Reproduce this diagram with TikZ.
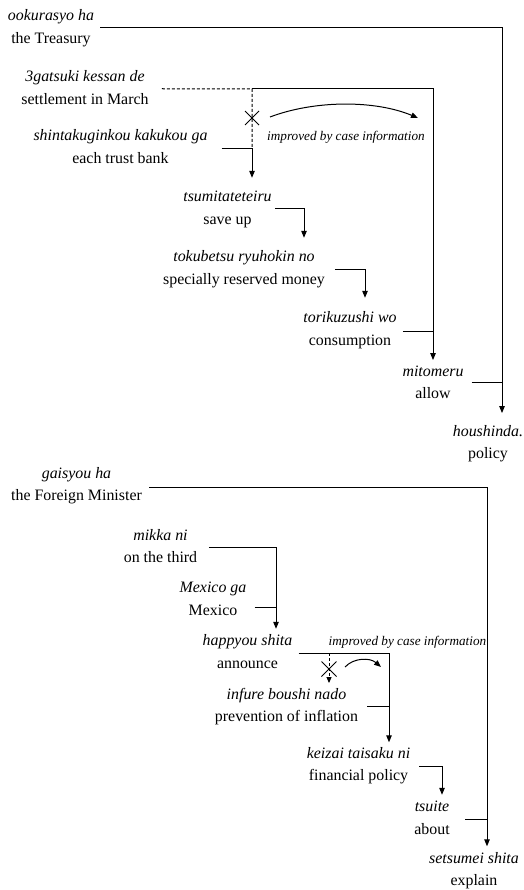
\documentclass[tikz,border=0pt]{standalone}
\usepackage{fontspec}
\setmainfont{Liberation Serif}
\usetikzlibrary{arrows.meta,calc}
\tikzset{
  word/.style={align=center, inner sep=0pt, font=\fontsize{15.9}{22.5}\selectfont},
  link/.style={line width=1pt},
  arr/.style={link, -{Triangle[length=7pt,width=5.5pt]}},
  wrong/.style={line width=1pt, dash pattern=on 3pt off 2pt},
  note/.style={inner sep=0pt, font=\fontsize{13.2}{15}\selectfont\itshape},
  xmark/.style={line width=0.8pt},
}
\newcommand{\glossword}[2]{\textit{#1}\strut\\#2\strut}
\begin{document}
\begin{tikzpicture}[x=1pt,y=-1pt]
\useasboundingbox (0,0) rectangle (523,890);
% ---------- upper sentence ----------
\node[word] (n1) at (51,27.75)   {\glossword{ookurasyo ha}{the Treasury}};
\node[word] (n2) at (85,88.75)   {\glossword{3gatsuki kessan de}{settlement in March}};
\node[word] (n3) at (120.5,147.5){\glossword{shintakuginkou kakukou ga}{each trust bank}};
\node[word] (n4) at (227.5,208.5){\glossword{tsumitateteiru}{save up}};
\node[word] (n5) at (244,268.5)  {\glossword{tokubetsu ryuhokin no}{specially reserved money}};
\node[word] (n6) at (350,329.5)  {\glossword{torikuzushi wo}{consumption}};
\node[word] (n7) at (433,382.75) {\glossword{mitomeru}{allow}};
\node[word] (n8) at (488,442.75) {\glossword{houshinda.}{policy}};

\coordinate (t1) at ($(n8.north)+(14,-7)$);
\draw[arr] ($(n1.east)+(6,0)$) -| (t1);

\coordinate (b1) at (252,89);
\coordinate (s3) at ($(n3.east)+(14,1.5)$);
\draw[wrong] ($(n2.east)+(13,0)$) -- (b1) -- (b1 |- s3);
\draw[arr] (b1) -| (n7.north);
\draw[arr] (s3) -| ($(b1 |- n4.north)+(0,-8)$);
\draw[arr] ($(n4.east)+(3,0)$) -| ($(n5.north)+(60,-8)$);
\draw[arr] ($(n5.east)+(10,1.5)$) -| ($(n6.north)+(15,-9)$);
\coordinate (s6) at ($(n6.east)+(6,1.5)$);
\draw[link] (s6) -- (s6 -| n7.north);
\coordinate (s7) at ($(n7.east)+(8,0)$);
\draw[link] (s7) -- (s7 -| t1);

\coordinate (x1) at (252,118);
\draw[xmark] ($(x1)+(-7,-7)$) -- ($(x1)+(7,7)$) ($(x1)+(-7,7)$) -- ($(x1)+(7,-7)$);
\coordinate (c1a) at (270,117);
\coordinate (c1b) at (418,118);
\draw[arr] (c1a) .. controls (315,100) and (375,100) .. (c1b);
\node[note] (l1) at (346,137) {improved by case information};

% ---------- lower sentence ----------
\node[word] (n9)  at (76.5,485)   {\glossword{gaisyou ha}{the Foreign Minister}};
\node[word] (n10) at (160.5,546.75){\glossword{mikka ni}{on the third}};
\node[word] (n11) at (213,599.5)  {\glossword{Mexico ga}{Mexico}};
\node[word] (n12) at (247.5,652.5){\glossword{happyou shita}{announce}};
\node[word] (n13) at (286.5,705.75){\glossword{infure boushi nado}{prevention of inflation}};
\node[word] (n14) at (358.5,765)  {\glossword{keizai taisaku ni}{financial policy}};
\node[word] (n15) at (432,818.5)  {\glossword{tsuite}{about}};
\node[word] (n16) at (474,870)    {\glossword{setsumei shita}{explain}};

\coordinate (t9) at ($(n16.north)+(13,-1)$);
\draw[arr] ($(n9.east)+(7,2)$) -| (t9);
\coordinate (t12) at ($(n12.north)+(28.5,-1)$);
\draw[arr] ($(n10.east)+(11.5,1)$) -| (t12);
\coordinate (s11) at ($(n11.east)+(8,7.5)$);
\draw[link] (s11) -- (s11 -| t12);
\coordinate (t14) at ($(n14.north)+(30.5,0)$);
\coordinate (s12) at ($(n12.east)+(6,0.5)$);
\draw[arr] (s12) -| (t14);
\coordinate (b2) at (329,653);
\draw[wrong,-{Triangle[length=6pt,width=5pt]}] (b2) -- (b2 |- n13.north);
\coordinate (s13) at ($(n13.east)+(9,0.25)$);
\draw[link] (s13) -- (s13 -| t14);
\coordinate (t15) at ($(n15.north)+(10,-1)$);
\draw[arr] ($(n14.east)+(9,1)$) -| (t15);
\coordinate (s15) at ($(n15.east)+(15.5,0.5)$);
\draw[link] (s15) -- (s15 -| t9);

\coordinate (x2) at (329,669);
\draw[xmark] ($(x2)+(-7.5,-7.5)$) -- ($(x2)+(7.5,7.5)$) ($(x2)+(-7.5,7.5)$) -- ($(x2)+(7.5,-7.5)$);
\coordinate (c2a) at (345,667);
\coordinate (c2b) at (381,667);
\draw[arr] (c2a) .. controls (354,657.5) and (370,657.5) .. (c2b);
\node[note] (l2) at (407.5,642) {improved by case information};
\end{tikzpicture}
\end{document}
